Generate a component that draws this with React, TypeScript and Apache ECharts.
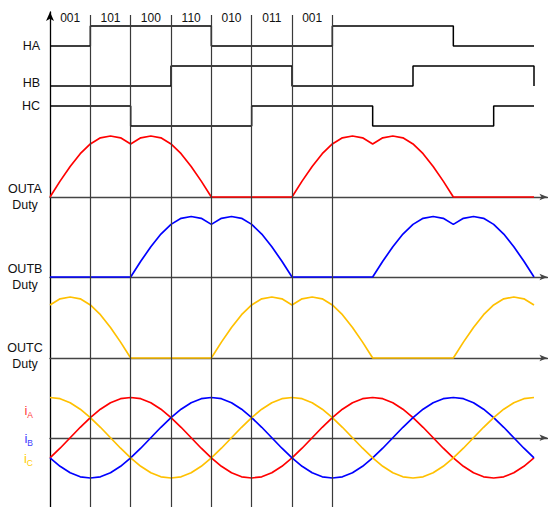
import React, { useEffect, useRef } from "react";
import * as echarts from "echarts";

// ---------- data ----------
const SAMPLE_STEP = 15; // degrees between analog samples
const EDGE_STEP = 60; // degrees between hall-state slots

const sectorLabels = ["001", "101", "100", "110", "010", "011", "001"];
const sectorBoundaries = [60, 120, 180, 240, 300, 360, 420];

// hall signals, one value per 60° slot (0..720)
const hallA = [0, 1, 1, 1, 0, 0, 0, 1, 1, 1, 0, 0, 0];
const hallB = [0, 0, 0, 1, 1, 1, 0, 0, 0, 1, 1, 1, 0];
const hallC = [1, 1, 0, 0, 0, 1, 1, 1, 0, 0, 0, 1, 1];

// duty curves, every 15° from 0 to 720
const outADuty = [
  0, 0.26, 0.5, 0.71, 0.87, 0.97, 1, 0.97, 0.87, 0.97, 1, 0.97, 0.87, 0.71, 0.5, 0.26, 0, 0, 0, 0, 0, 0, 0, 0,
  0, 0.26, 0.5, 0.71, 0.87, 0.97, 1, 0.97, 0.87, 0.97, 1, 0.97, 0.87, 0.71, 0.5, 0.26, 0, 0, 0, 0, 0, 0, 0, 0,
  0,
];
const outBDuty = [
  0, 0, 0, 0, 0, 0, 0, 0, 0, 0.26, 0.5, 0.71, 0.87, 0.97, 1, 0.97, 0.87, 0.97, 1, 0.97, 0.87, 0.71, 0.5, 0.26,
  0, 0, 0, 0, 0, 0, 0, 0, 0, 0.26, 0.5, 0.71, 0.87, 0.97, 1, 0.97, 0.87, 0.97, 1, 0.97, 0.87, 0.71, 0.5, 0.26,
  0,
];
const outCDuty = [
  0.87, 0.97, 1, 0.97, 0.87, 0.71, 0.5, 0.26, 0, 0, 0, 0, 0, 0, 0, 0, 0, 0.26, 0.5, 0.71, 0.87, 0.97, 1, 0.97,
  0.87, 0.97, 1, 0.97, 0.87, 0.71, 0.5, 0.26, 0, 0, 0, 0, 0, 0, 0, 0, 0, 0.26, 0.5, 0.71, 0.87, 0.97, 1, 0.97,
  0.87,
];

// phase currents, every 15° from 0 to 720
const currentA = [
  -0.5, -0.26, 0, 0.26, 0.5, 0.71, 0.87, 0.97, 1, 0.97, 0.87, 0.71, 0.5, 0.26, 0, -0.26, -0.5, -0.71, -0.87, -0.97, -1, -0.97, -0.87, -0.71,
  -0.5, -0.26, 0, 0.26, 0.5, 0.71, 0.87, 0.97, 1, 0.97, 0.87, 0.71, 0.5, 0.26, 0, -0.26, -0.5, -0.71, -0.87, -0.97, -1, -0.97, -0.87, -0.71,
  -0.5,
];
const currentB = [
  -0.5, -0.71, -0.87, -0.97, -1, -0.97, -0.87, -0.71, -0.5, -0.26, 0, 0.26, 0.5, 0.71, 0.87, 0.97, 1, 0.97, 0.87, 0.71, 0.5, 0.26, 0, -0.26,
  -0.5, -0.71, -0.87, -0.97, -1, -0.97, -0.87, -0.71, -0.5, -0.26, 0, 0.26, 0.5, 0.71, 0.87, 0.97, 1, 0.97, 0.87, 0.71, 0.5, 0.26, 0, -0.26,
  -0.5,
];
const currentC = [
  1, 0.97, 0.87, 0.71, 0.5, 0.26, 0, -0.26, -0.5, -0.71, -0.87, -0.97, -1, -0.97, -0.87, -0.71, -0.5, -0.26, 0, 0.26, 0.5, 0.71, 0.87, 0.97,
  1, 0.97, 0.87, 0.71, 0.5, 0.26, 0, -0.26, -0.5, -0.71, -0.87, -0.97, -1, -0.97, -0.87, -0.71, -0.5, -0.26, 0, 0.26, 0.5, 0.71, 0.87, 0.97,
  1,
];

const currentLabelValues = [0.7, 0, -0.5];
const currentSubscripts = ["A", "B", "C"];

// ---------- layout / style ----------
const FONT = "'Liberation Sans', Arial, Helvetica, sans-serif";
const X_LEFT = 50;
const DEG_TO_PX = 484 / 720;
const X_MAX = 740;
const GRID_W = X_MAX * DEG_TO_PX;

const RED = "#ff0000";
const BLUE = "#0000ff";
const YELLOW = "#ffc000";
const LABEL_COLORS = ["#ff3b3b", "#3d3dff", "#ffcc00"];

const toPairs = (arr: number[], step: number) => arr.map((v, i) => [i * step, v]);

type Track = {
  top: number;
  height: number;
  min: number;
  max: number;
  showXAxis: boolean;
  label: any;
};

function buildOption() {
  const grids: any[] = [];
  const xAxes: any[] = [];
  const yAxes: any[] = [];
  const series: any[] = [];
  const visualMaps: any[] = [];

  const baseX = (idx: number, extra: any = {}) => ({
    type: "value",
    gridIndex: idx,
    min: 0,
    max: X_MAX,
    show: false,
    ...extra,
  });

  // 0: main vertical axis with arrow
  grids.push({ left: X_LEFT, top: 12, width: GRID_W, bottom: 0 });
  xAxes.push(baseX(0));
  yAxes.push({
    type: "value",
    gridIndex: 0,
    min: 0,
    max: 1,
    axisLine: {
      show: true,
      symbol: ["none", "arrow"],
      symbolSize: [6, 9],
      lineStyle: { color: "#000", width: 1.3 },
    },
    axisTick: { show: false },
    axisLabel: { show: false },
    splitLine: { show: false },
  });

  // 1: sector boundaries + hall state labels
  grids.push({ left: X_LEFT, top: 15, width: GRID_W, bottom: 0 });
  xAxes.push({
    type: "value",
    gridIndex: 1,
    position: "top",
    min: 0,
    max: X_MAX,
    interval: 30,
    axisLine: { show: false },
    axisTick: { show: false },
    splitLine: { show: false },
    axisLabel: {
      show: true,
      margin: -3,
      verticalAlign: "middle",
      fontFamily: FONT,
      fontSize: 12,
      color: "#111",
      formatter: (v: number) => {
        if (v % 60 !== 30) return "";
        const k = (v - 30) / 60;
        return k < sectorLabels.length ? sectorLabels[k] : "";
      },
    },
  });
  yAxes.push({ type: "value", gridIndex: 1, min: 0, max: 1, show: false });
  series.push({
    type: "line",
    xAxisIndex: 1,
    yAxisIndex: 1,
    data: [],
    silent: true,
    markLine: {
      silent: true,
      symbol: "none",
      label: { show: false },
      lineStyle: { color: "#3a3a3a", width: 1.2, type: "solid" },
      data: sectorBoundaries.map((b) => ({ xAxis: b })),
    },
  });

  const tracks: Track[] = [
    { top: 26, height: 20, min: 0, max: 1, showXAxis: false, label: { values: [0], text: "HA", align: "right", margin: 10 } },
    { top: 66, height: 20, min: 0, max: 1, showXAxis: false, label: { values: [0.15], text: "HB", align: "right", margin: 10 } },
    { top: 106, height: 20, min: 0, max: 1, showXAxis: false, label: { values: [1], text: "HC", align: "right", margin: 10 } },
    { top: 136, height: 61, min: 0, max: 1, showXAxis: true, label: { values: [0], text: "OUTA\nDuty", align: "center", margin: 25 } },
    { top: 216.5, height: 60.5, min: 0, max: 1, showXAxis: true, label: { values: [0], text: "OUTB\nDuty", align: "center", margin: 25 } },
    { top: 297, height: 61, min: 0, max: 1, showXAxis: true, label: { values: [0.03], text: "OUTC\nDuty", align: "center", margin: 25 } },
    { top: 397.5, height: 80.5, min: -1, max: 1, showXAxis: true, label: null },
  ];

  tracks.forEach((t, k) => {
    const idx = k + 2;
    grids.push({ left: X_LEFT, top: t.top, width: GRID_W, height: t.height });
    xAxes.push(
      t.showXAxis
        ? {
            type: "value",
            gridIndex: idx,
            min: 0,
            max: X_MAX,
            axisLine: {
              show: true,
              onZero: true,
              symbol: ["none", "arrow"],
              symbolSize: [5, 8],
              lineStyle: { color: "#444", width: 1.3 },
            },
            axisTick: { show: false },
            axisLabel: { show: false },
            splitLine: { show: false },
          }
        : baseX(idx)
    );
    const axisLabel: any = t.label
      ? {
          show: true,
          customValues: t.label.values,
          formatter: () => t.label.text,
          align: t.label.align,
          margin: t.label.margin,
          fontFamily: FONT,
          fontSize: 12.5,
          lineHeight: 16,
          color: "#111",
        }
      : {
          show: true,
          customValues: currentLabelValues,
          align: "right",
          margin: 17,
          formatter: (v: number) => {
            const k2 = currentLabelValues.findIndex((c) => Math.abs(c - v) < 1e-6);
            if (k2 < 0) return "";
            return `{m${k2}|i}{s${k2}|${currentSubscripts[k2]}}`;
          },
          rich: Object.fromEntries(
            currentSubscripts.flatMap((_, j) => [
              [`m${j}`, { color: LABEL_COLORS[j], fontFamily: FONT, fontSize: 13, verticalAlign: "bottom", lineHeight: 14 }],
              [`s${j}`, { color: LABEL_COLORS[j], fontFamily: FONT, fontSize: 8.5, verticalAlign: "bottom", lineHeight: 10, padding: [0, 0, -3, 0] }],
            ])
          ),
        };
    yAxes.push({
      type: "value",
      gridIndex: idx,
      min: t.min,
      max: t.max,
      axisLine: { show: false },
      axisTick: { show: false },
      splitLine: { show: false },
      axisLabel,
    });
  });

  const lineBase = (idx: number, data: any[], color: string, width: number, extra: any = {}) => ({
    type: "line",
    xAxisIndex: idx,
    yAxisIndex: idx,
    data,
    symbol: "none",
    clip: false,
    silent: true,
    lineStyle: { color, width },
    itemStyle: { color },
    ...extra,
  });

  // hall signals
  [hallA, hallB, hallC].forEach((h, k) => {
    series.push(lineBase(k + 2, toPairs(h, EDGE_STEP), "#000", 1.5, { step: "end" }));
  });

  // duty curves
  const dutyDefs = [
    { data: outADuty, color: RED, dark: "#8a1212", span: [240, 360] },
    { data: outBDuty, color: BLUE, dark: "#1414a8", span: [0, 120] },
    { data: outCDuty, color: YELLOW, dark: "#d9a400", span: [120, 240] },
  ];
  dutyDefs.forEach((d, k) => {
    const sIdx = series.length;
    series.push(lineBase(k + 5, toPairs(d.data, SAMPLE_STEP), d.color, 1.7));
    visualMaps.push({
      type: "piecewise",
      show: false,
      seriesIndex: sIdx,
      dimension: 0,
      pieces: [{ gte: d.span[0], lte: d.span[1], color: d.dark }],
      outOfRange: { color: d.color },
    });
  });

  // phase currents
  [
    { data: currentA, color: RED },
    { data: currentB, color: BLUE },
    { data: currentC, color: YELLOW },
  ].forEach((c) => {
    series.push(lineBase(8, toPairs(c.data, SAMPLE_STEP), c.color, 1.7));
  });

  return {
    animation: false,
    backgroundColor: "#ffffff",
    textStyle: { fontFamily: FONT },
    grid: grids,
    xAxis: xAxes,
    yAxis: yAxes,
    visualMap: visualMaps,
    series,
  };
}

export default function App() {
  const ref = useRef<HTMLDivElement>(null);
  useEffect(() => {
    if (!ref.current) return;
    const chart = echarts.init(ref.current, undefined, { renderer: "svg" });
    chart.setOption(buildOption() as any);
    return () => chart.dispose();
  }, []);
  return (
    <div
      ref={ref}
      style={{ position: "absolute", left: 0, top: 0, width: 551, height: 507, background: "#fff" }}
    />
  );
}
